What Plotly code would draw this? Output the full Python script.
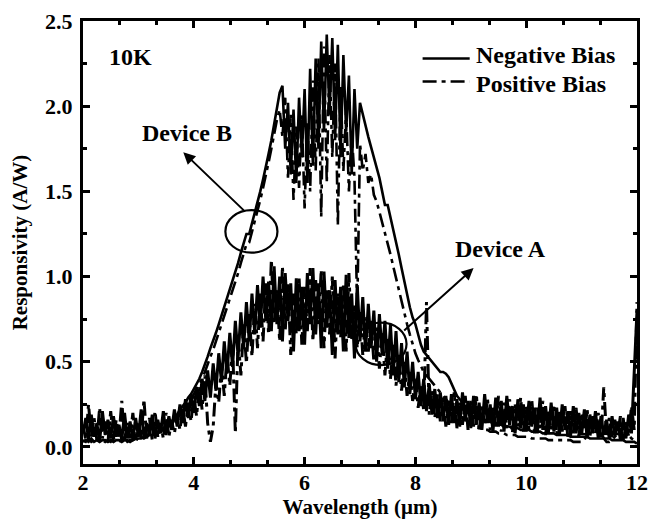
import numpy as np
import plotly.graph_objects as go

# Wavelength sampling (µm), 0.05 µm steps from 2 to 12
wavelength = np.round(np.arange(2.0, 12.0001, 0.05), 2).tolist()

# Device A, negative bias (solid)
devA_neg = [
    0.08, 0.17, 0.04, 0.19, 0.06, 0.14, 0.03, 0.21, 0.07, 0.16,
    0.05, 0.18, 0.06, 0.13, 0.04, 0.20, 0.05, 0.15, 0.04, 0.17,
    0.06, 0.22, 0.05, 0.14, 0.07, 0.19, 0.05, 0.16, 0.08, 0.21,
    0.07, 0.18, 0.10, 0.22, 0.12, 0.25, 0.14, 0.28, 0.17, 0.31,
    0.20, 0.35, 0.24, 0.40, 0.27, 0.45, 0.29, 0.49, 0.33, 0.55,
    0.38, 0.62, 0.43, 0.67, 0.47, 0.74, 0.53, 0.79, 0.58, 0.85,
    0.62, 0.90, 0.66, 0.95, 0.70, 1.00, 0.74, 0.97, 0.68, 1.06,
    0.72, 1.00, 0.62, 1.02, 0.74, 0.96, 0.56, 0.99, 0.68, 0.94,
    0.60, 1.02, 0.72, 1.05, 0.66, 0.96, 0.58, 1.03, 0.70, 0.92,
    0.54, 0.98, 0.66, 0.94, 0.56, 1.01, 0.64, 0.90, 0.52, 0.95,
    0.62, 0.88, 0.56, 0.84, 0.58, 0.80, 0.50, 0.78, 0.54, 0.74,
    0.46, 0.72, 0.42, 0.68, 0.38, 0.61, 0.35, 0.56, 0.31, 0.50,
    0.28, 0.44, 0.24, 0.40, 0.21, 0.37, 0.19, 0.34, 0.17, 0.32,
    0.15, 0.30, 0.13, 0.31, 0.14, 0.28, 0.12, 0.32, 0.15, 0.27,
    0.11, 0.30, 0.13, 0.26, 0.10, 0.31, 0.14, 0.25, 0.09, 0.29,
    0.12, 0.27, 0.09, 0.30, 0.13, 0.24, 0.08, 0.28, 0.11, 0.25,
    0.09, 0.27, 0.12, 0.23, 0.08, 0.29, 0.10, 0.24, 0.08, 0.26,
    0.09, 0.23, 0.07, 0.25, 0.10, 0.21, 0.06, 0.24, 0.08, 0.20,
    0.07, 0.22, 0.05, 0.19, 0.08, 0.21, 0.05, 0.18, 0.07, 0.16,
    0.05, 0.18, 0.06, 0.15, 0.04, 0.17, 0.05, 0.19, 0.08, 0.45,
    0.80,
]

# Device A, positive bias (dash-dot)
devA_pos = [
    0.13, 0.04, 0.25, 0.06, 0.17, 0.04, 0.23, 0.05, 0.15, 0.03,
    0.21, 0.05, 0.16, 0.06, 0.27, 0.04, 0.14, 0.05, 0.20, 0.04,
    0.15, 0.05, 0.28, 0.05, 0.17, 0.04, 0.21, 0.06, 0.14, 0.05,
    0.20, 0.06, 0.15, 0.08, 0.19, 0.10, 0.23, 0.12, 0.26, 0.15,
    0.30, 0.18, 0.36, 0.22, 0.42, 0.14, 0.03, 0.12, 0.38, 0.26,
    0.48, 0.30, 0.54, 0.36, 0.60, 0.08, 0.64, 0.42, 0.72, 0.49,
    0.78, 0.53, 0.84, 0.58, 0.90, 0.62, 0.96, 0.66, 1.10, 0.72,
    0.92, 0.62, 1.06, 0.68, 0.96, 0.54, 0.90, 0.66, 1.00, 0.60,
    0.94, 0.68, 1.05, 0.62, 0.98, 0.72, 1.04, 0.58, 0.92, 0.66,
    1.00, 0.52, 0.90, 0.64, 0.96, 0.56, 1.02, 0.62, 0.84, 0.58,
    0.80, 0.54, 0.76, 0.56, 0.74, 0.50, 0.70, 0.46, 0.68, 0.42,
    0.64, 0.40, 0.60, 0.36, 0.54, 0.33, 0.50, 0.30, 0.44, 0.27,
    0.40, 0.23, 0.37, 0.21, 0.85, 0.19, 0.33, 0.17, 0.31, 0.15,
    0.29, 0.12, 0.27, 0.14, 0.32, 0.11, 0.26, 0.13, 0.30, 0.10,
    0.27, 0.12, 0.31, 0.09, 0.25, 0.13, 0.29, 0.10, 0.24, 0.12,
    0.30, 0.09, 0.26, 0.11, 0.28, 0.08, 0.25, 0.12, 0.29, 0.09,
    0.24, 0.10, 0.28, 0.08, 0.23, 0.11, 0.27, 0.07, 0.22, 0.10,
    0.25, 0.07, 0.22, 0.09, 0.24, 0.06, 0.21, 0.08, 0.23, 0.06,
    0.20, 0.07, 0.22, 0.06, 0.18, 0.08, 0.20, 0.05, 0.35, 0.07,
    0.17, 0.05, 0.16, 0.07, 0.18, 0.04, 0.15, 0.06, 0.24, 0.10,
    0.85,
]

# Device B, negative bias (solid)
devB_neg = [
    0.03, 0.04, 0.03, 0.05, 0.03, 0.04, 0.03, 0.04, 0.04, 0.03,
    0.04, 0.03, 0.04, 0.04, 0.03, 0.04, 0.04, 0.03, 0.04, 0.05,
    0.05, 0.05, 0.06, 0.06, 0.07, 0.07, 0.08, 0.09, 0.10, 0.11,
    0.12, 0.13, 0.15, 0.17, 0.19, 0.22, 0.24, 0.26, 0.29, 0.31,
    0.34, 0.37, 0.40, 0.44, 0.48, 0.53, 0.58, 0.62, 0.67, 0.72,
    0.77, 0.82, 0.87, 0.92, 0.97, 1.02, 1.08, 1.14, 1.19, 1.25,
    1.25, 1.31, 1.37, 1.43, 1.50, 1.57, 1.64, 1.72, 1.80, 1.89,
    1.98, 2.08, 2.12, 1.75, 2.02, 1.60, 1.98, 1.55, 2.05, 1.70,
    2.10, 1.55, 2.22, 1.65, 2.28, 1.75, 2.38, 1.85, 2.42, 1.95,
    2.40, 1.80, 2.36, 1.70, 2.30, 1.85, 2.18, 1.60, 2.10, 1.75,
    2.02, 1.95, 1.88, 1.82, 1.76, 1.70, 1.64, 1.58, 1.50, 1.42,
    1.42, 1.35, 1.28, 1.21, 1.13, 1.05, 0.97, 0.89, 0.82, 0.76,
    0.72, 0.66, 0.60, 0.56, 0.54, 0.52, 0.50, 0.48, 0.46, 0.44,
    0.44, 0.43, 0.41, 0.37, 0.33, 0.30, 0.28, 0.26, 0.24, 0.22,
    0.21, 0.20, 0.19, 0.18, 0.17, 0.16, 0.15, 0.15, 0.14, 0.14,
    0.13, 0.13, 0.12, 0.12, 0.12, 0.11, 0.11, 0.11, 0.10, 0.10,
    0.10, 0.10, 0.09, 0.09, 0.09, 0.09, 0.08, 0.08, 0.08, 0.08,
    0.08, 0.07, 0.07, 0.07, 0.07, 0.07, 0.06, 0.06, 0.06, 0.06,
    0.06, 0.06, 0.06, 0.05, 0.05, 0.05, 0.05, 0.05, 0.05, 0.05,
    0.05, 0.04, 0.04, 0.04, 0.04, 0.04, 0.03, 0.03, 0.03, 0.03,
    0.02,
]

# Device B, positive bias (dash-dot)
devB_pos = [
    0.04, 0.03, 0.05, 0.03, 0.04, 0.03, 0.05, 0.04, 0.03, 0.04,
    0.03, 0.05, 0.04, 0.03, 0.04, 0.05, 0.03, 0.04, 0.04, 0.05,
    0.04, 0.05, 0.05, 0.06, 0.06, 0.07, 0.07, 0.08, 0.09, 0.10,
    0.11, 0.12, 0.13, 0.15, 0.17, 0.19, 0.21, 0.23, 0.26, 0.28,
    0.31, 0.34, 0.37, 0.40, 0.44, 0.49, 0.53, 0.57, 0.62, 0.67,
    0.72, 0.77, 0.81, 0.86, 0.91, 0.96, 1.02, 1.08, 1.13, 1.19,
    1.20, 1.26, 1.32, 1.38, 1.45, 1.52, 1.59, 1.67, 1.75, 1.84,
    1.92, 1.98, 1.82, 2.05, 1.58, 1.95, 1.45, 1.88, 1.52, 1.96,
    1.40, 1.90, 1.50, 2.15, 1.62, 2.28, 1.35, 2.35, 1.55, 2.30,
    1.70, 2.25, 1.30, 2.12, 1.62, 1.98, 1.50, 1.85, 1.58, 0.80,
    1.78, 1.62, 1.72, 1.55, 1.60, 1.48, 1.44, 1.38, 1.32, 1.25,
    1.20, 1.13, 1.06, 0.99, 0.92, 0.85, 0.78, 0.72, 0.66, 0.60,
    0.55, 0.51, 0.47, 0.44, 0.42, 0.40, 0.38, 0.36, 0.34, 0.32,
    0.30, 0.28, 0.26, 0.24, 0.22, 0.20, 0.18, 0.17, 0.16, 0.15,
    0.14, 0.13, 0.12, 0.11, 0.11, 0.10, 0.10, 0.09, 0.09, 0.09,
    0.08, 0.08, 0.08, 0.07, 0.07, 0.07, 0.07, 0.06, 0.06, 0.06,
    0.06, 0.06, 0.05, 0.05, 0.05, 0.05, 0.05, 0.05, 0.04, 0.04,
    0.04, 0.04, 0.04, 0.04, 0.04, 0.04, 0.04, 0.03, 0.03, 0.03,
    0.03, 0.04, 0.08, 0.12, 0.15, 0.16, 0.13, 0.09, 0.05, 0.03,
    0.03, 0.04, 0.06, 0.08, 0.10, 0.12, 0.10, 0.07, 0.05, 0.04,
    0.03,
]

x_ticks = [2, 4, 6, 8, 10, 12]
y_ticks = [0.0, 0.5, 1.0, 1.5, 2.0, 2.5]

FONT = "Liberation Serif"
DASHDOT = "14px,5px,4px,5px"

fig = go.Figure()
fig.add_trace(go.Scatter(x=wavelength, y=devA_neg, mode="lines", name="Device A, Negative Bias",
                         line=dict(color="black", width=3), showlegend=False))
fig.add_trace(go.Scatter(x=wavelength, y=devA_pos, mode="lines", name="Device A, Positive Bias",
                         line=dict(color="black", width=3, dash=DASHDOT), showlegend=False))
fig.add_trace(go.Scatter(x=wavelength, y=devB_neg, mode="lines", name="Device B, Negative Bias",
                         line=dict(color="black", width=2.6), showlegend=False))
fig.add_trace(go.Scatter(x=wavelength, y=devB_pos, mode="lines", name="Device B, Positive Bias",
                         line=dict(color="black", width=2.6, dash=DASHDOT), showlegend=False))

# Manual legend keys
fig.add_shape(type="line", xref="x", yref="y", x0=8.13, x1=8.98, y0=2.28, y1=2.28,
              line=dict(color="black", width=2.5))
fig.add_shape(type="line", xref="x", yref="y", x0=8.13, x1=8.98, y0=2.145, y1=2.145,
              line=dict(color="black", width=2.5, dash=DASHDOT))

annot_font = dict(family=FONT, size=24, color="black", weight="bold")
fig.add_annotation(x=9.05, y=2.30, xref="x", yref="y", text="Negative Bias", showarrow=False,
                   xanchor="left", yanchor="middle", font=annot_font)
fig.add_annotation(x=9.05, y=2.13, xref="x", yref="y", text="Positive Bias", showarrow=False,
                   xanchor="left", yanchor="middle", font=annot_font)
fig.add_annotation(x=2.43, y=2.29, xref="x", yref="y", text="10K", showarrow=False,
                   xanchor="left", yanchor="middle", font=annot_font)
fig.add_annotation(x=3.03, y=1.84, xref="x", yref="y", text="Device B", showarrow=False,
                   xanchor="left", yanchor="middle", font=annot_font)
fig.add_annotation(x=8.67, y=1.16, xref="x", yref="y", text="Device A", showarrow=False,
                   xanchor="left", yanchor="middle", font=annot_font)

# Arrows
fig.add_annotation(x=3.81, y=1.73, ax=4.93, ay=1.38, xref="x", yref="y", axref="x", ayref="y",
                   text="", showarrow=True, arrowhead=2, arrowsize=1.2, arrowwidth=2, arrowcolor="black")
fig.add_annotation(x=9.05, y=1.05, ax=7.77, ay=0.675, xref="x", yref="y", axref="x", ayref="y",
                   text="", showarrow=True, arrowhead=2, arrowsize=1.2, arrowwidth=2, arrowcolor="black")

# Ellipses
fig.add_shape(type="circle", xref="x", yref="y", x0=4.57, x1=5.51, y0=1.14, y1=1.39,
              line=dict(color="black", width=2.2))
fig.add_shape(type="circle", xref="x", yref="y", x0=6.92, x1=7.84, y0=0.48, y1=0.73,
              line=dict(color="black", width=2.2))

tick_font = dict(family=FONT, size=22, color="black", weight="bold")
title_font = dict(family=FONT, size=21, color="black", weight="bold")

fig.update_xaxes(range=[2, 12], tickvals=x_ticks, ticktext=[str(v) for v in x_ticks],
                 showline=True, linecolor="black", linewidth=3, mirror="allticks",
                 ticks="inside", ticklen=7, tickwidth=3, tickcolor="black",
                 minor=dict(ticks="inside", dtick=2/3, tick0=2, ticklen=4, tickwidth=3, tickcolor="black"),
                 showgrid=False, zeroline=False, tickfont=tick_font, ticklabelstandoff=-3,
                 ticklabeloverflow="allow", automargin=False,
                 title=dict(text="Wavelength (μm)", font=title_font, standoff=2))
fig.update_yaxes(range=[-0.1, 2.5], tickvals=y_ticks, ticktext=[f"{v:.1f}" for v in y_ticks],
                 showline=True, linecolor="black", linewidth=3, mirror="allticks",
                 ticks="inside", ticklen=7, tickwidth=3, tickcolor="black",
                 minor=dict(ticks="inside", dtick=0.25, tick0=0, ticklen=4, tickwidth=3, tickcolor="black"),
                 showgrid=False, zeroline=False, tickfont=tick_font, ticklabelstandoff=3,
                 ticklabeloverflow="allow", automargin=False,
                 title=dict(text="Responsivity (A/W)", font=title_font, standoff=12))

fig.update_layout(width=649, height=523, margin=dict(l=83, r=12, t=21, b=59),
                  paper_bgcolor="white", plot_bgcolor="white", showlegend=False)

# Remove the default page margin so the 649x523 figure fills the window exactly
fig.write_html("out.html", config={"displayModeBar": False},
               post_script="document.body.style.margin='0';document.body.style.overflow='hidden';")
